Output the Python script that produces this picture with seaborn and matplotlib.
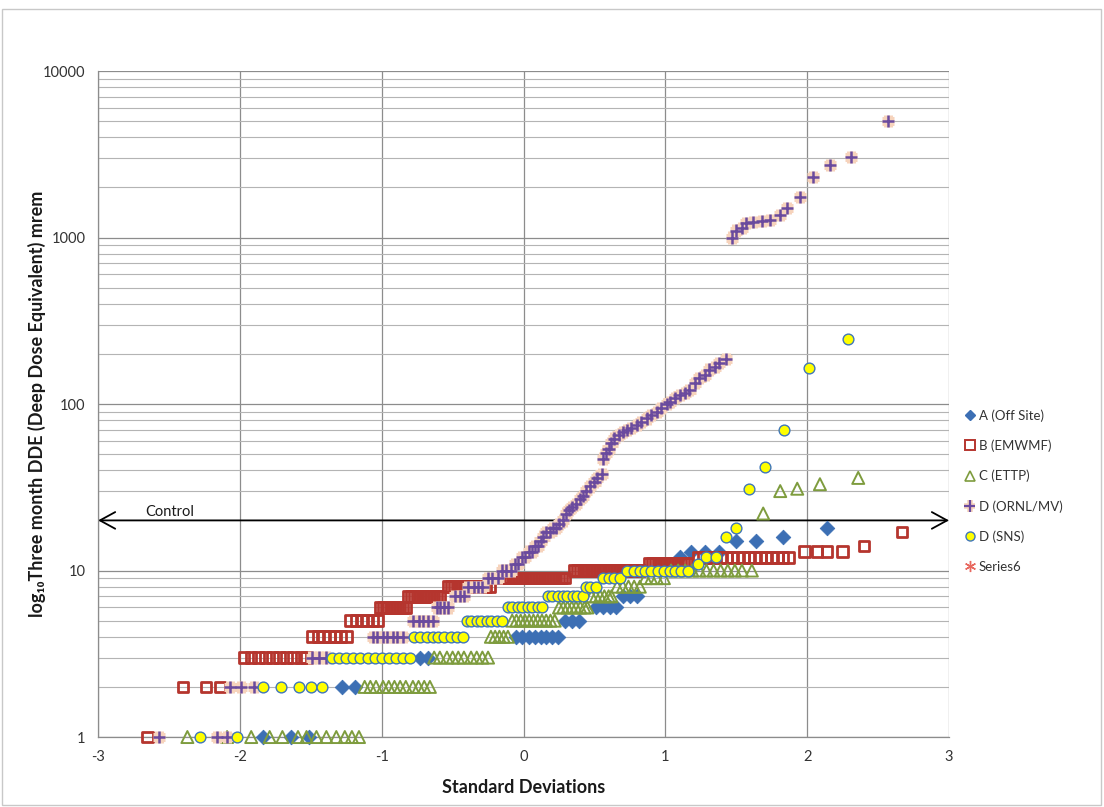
import matplotlib
matplotlib.use("Agg")
import matplotlib.pyplot as plt
import matplotlib.patheffects as pe
from matplotlib.lines import Line2D
from matplotlib.patches import Rectangle
from matplotlib.ticker import FixedLocator, LogLocator, NullFormatter
import pandas as pd
import seaborn as sns

# ---- Data: dose levels (mrem) and the standard-deviation positions of each point ----
A_DOSE = [1, 2, 3, 4, 5, 6, 7, 12, 13, 15, 16, 18]
A_SD = [[-1.84, -1.64, -1.51], [-1.28, -1.19], [-0.73, -0.67],
        [-0.05, -0.01, 0.04, 0.08, 0.12, 0.16, 0.20, 0.24],
        [0.29, 0.34, 0.39], [0.51, 0.56, 0.61, 0.65], [0.70, 0.75, 0.80],
        [1.10], [1.18, 1.28, 1.38], [1.50, 1.64], [1.83], [2.14]]

B_DOSE = [1, 2, 3, 4, 5, 6, 7, 8, 9, 10, 11, 12, 13, 14, 17]
B_SD = [[-2.65], [-2.40, -2.24, -2.14],
        [-1.97, -1.92, -1.87, -1.82, -1.77, -1.72, -1.67, -1.62, -1.57, -1.53],
        [-1.49, -1.45, -1.41, -1.37, -1.33, -1.29, -1.25],
        [-1.22, -1.18, -1.14, -1.10, -1.06, -1.03],
        [-1.01, -0.99, -0.97, -0.95, -0.93, -0.91, -0.89, -0.87, -0.85, -0.83],
        [-0.81, -0.79, -0.77, -0.75, -0.73, -0.71, -0.69, -0.67, -0.65, -0.63, -0.61, -0.59],
        [-0.53, -0.51, -0.49, -0.47, -0.45, -0.43, -0.41, -0.39, -0.37, -0.35, -0.33,
         -0.31, -0.29, -0.27, -0.24],
        [-0.15, -0.13, -0.11, -0.09, -0.07, -0.05, -0.03, -0.01, 0.01, 0.03, 0.05, 0.07,
         0.09, 0.11, 0.13, 0.15, 0.17, 0.19, 0.21, 0.23, 0.25, 0.27, 0.29],
        [0.36, 0.38, 0.40, 0.42, 0.44, 0.46, 0.48, 0.50, 0.52, 0.54, 0.56, 0.58, 0.60,
         0.62, 0.64, 0.66, 0.68, 0.70, 0.72, 0.74, 0.76, 0.78, 0.80, 0.82],
        [0.89, 0.91, 0.93, 0.95, 0.97, 0.99, 1.01, 1.03, 1.05, 1.07, 1.09, 1.11, 1.13, 1.15],
        [1.23, 1.27, 1.31, 1.35, 1.39, 1.43, 1.47, 1.51, 1.55, 1.59, 1.63, 1.67, 1.71,
         1.75, 1.79, 1.83, 1.87],
        [1.98, 2.07, 2.14, 2.25], [2.40], [2.67]]

C_DOSE = [1, 2, 3, 4, 5, 6, 7, 8, 9, 10, 22, 30, 31, 33, 36]
C_SD = [[-2.37, -2.09, -1.92, -1.79, -1.70, -1.59, -1.53, -1.46, -1.39, -1.32, -1.26, -1.21, -1.16],
        [-1.12, -1.08, -1.04, -0.99, -0.95, -0.91, -0.87, -0.83, -0.78, -0.74, -0.70, -0.66],
        [-0.63, -0.59, -0.54, -0.50, -0.46, -0.42, -0.37, -0.33, -0.29, -0.25],
        [-0.23, -0.20, -0.17, -0.14, -0.11],
        [-0.08, -0.05, -0.02, 0.01, 0.04, 0.07, 0.10, 0.13, 0.16, 0.19, 0.22],
        [0.25, 0.28, 0.31, 0.34, 0.37, 0.40, 0.43, 0.45],
        [0.48, 0.51, 0.54, 0.57, 0.60, 0.62],
        [0.66, 0.70, 0.74, 0.78, 0.82],
        [0.86, 0.90, 0.94, 0.99],
        [1.04, 1.09, 1.14, 1.19, 1.24, 1.29, 1.34, 1.39, 1.44, 1.49, 1.54, 1.61],
        [1.69], [1.81], [1.93], [2.09], [2.36]]

ORNL_DOSE = [1, 2, 3, 4, 5, 6, 7, 8, 9, 10, 11, 12, 13, 14, 15, 16, 17, 18, 19, 20,
             22, 23, 24, 25, 27, 28, 30, 32, 34, 36, 38,
             47, 51, 54, 58, 62, 65, 68, 70, 72, 75, 78, 82, 86, 90, 95, 100,
             103, 109, 113, 116, 121, 134, 144, 150, 161, 167, 176, 186,
             1000, 1100, 1140, 1220, 1240, 1260, 1280, 1360, 1500, 1750, 2300, 2720, 3040, 5000]
ORNL_SD = [[-2.57, -2.16, -2.09], [-2.07, -1.99, -1.90], [-1.49, -1.44, -1.39],
           [-1.06, -1.03, -0.99, -0.96, -0.92, -0.89, -0.85],
           [-0.78, -0.74, -0.71, -0.67, -0.64], [-0.61, -0.59, -0.56, -0.53],
           [-0.48, -0.45, -0.42], [-0.39, -0.35, -0.32, -0.29], [-0.25, -0.22, -0.18],
           [-0.15, -0.12, -0.09], [-0.06, -0.04], [-0.01, 0.01], [0.04, 0.06], [0.08, 0.10],
           [0.12], [0.14], [0.16, 0.19], [0.21, 0.23], [0.25], [0.28],
           [0.30], [0.32], [0.34], [0.37], [0.40], [0.42], [0.44], [0.47], [0.50], [0.52], [0.55],
           [0.56], [0.58], [0.60], [0.62], [0.64], [0.67], [0.70], [0.73], [0.76], [0.80],
           [0.83], [0.87], [0.90], [0.94], [0.97], [1.01],
           [1.03], [1.07], [1.10], [1.14], [1.17], [1.21], [1.24], [1.28], [1.31], [1.35],
           [1.38], [1.43],
           [1.47], [1.50], [1.54], [1.57], [1.62], [1.68], [1.74], [1.81], [1.86], [1.95],
           [2.04], [2.16], [2.31], [2.57]]

SNS_DOSE = [1, 2, 3, 4, 5, 6, 7, 8, 9, 10, 11, 12, 16, 18, 31, 42, 70, 164, 246]
SNS_SD = [[-2.28, -2.02], [-1.84, -1.71, -1.58, -1.50, -1.42],
          [-1.35, -1.30, -1.25, -1.20, -1.15, -1.10, -1.05, -1.00, -0.95, -0.90, -0.85, -0.80],
          [-0.77, -0.73, -0.68, -0.64, -0.60, -0.56, -0.51, -0.47, -0.43],
          [-0.40, -0.37, -0.33, -0.30, -0.26, -0.23, -0.19, -0.15],
          [-0.11, -0.08, -0.04, -0.01, 0.03, 0.06, 0.10, 0.13],
          [0.17, 0.20, 0.24, 0.28, 0.31, 0.35, 0.38, 0.42],
          [0.44, 0.47, 0.51], [0.56, 0.60, 0.64, 0.68],
          [0.73, 0.78, 0.82, 0.86, 0.90, 0.95, 0.99, 1.03, 1.07, 1.11, 1.16],
          [1.23], [1.29, 1.36], [1.43], [1.50], [1.59], [1.70], [1.84], [2.01], [2.29]]

SERIES_NAMES = ["A (Off Site)", "B (EMWMF)", "C (ETTP)", "D (ORNL/MV)", "D (SNS)", "Series6"]
CONTROL_LEVEL = 20
X_TICKS = [-3, -2, -1, 0, 1, 2, 3]
Y_TICKS = [1, 10, 100, 1000, 10000]


def long_rows(name, doses, sds):
    return [(name, x, d) for d, xs in zip(doses, sds) for x in xs]


rows = (long_rows(SERIES_NAMES[0], A_DOSE, A_SD)
        + long_rows(SERIES_NAMES[1], B_DOSE, B_SD)
        + long_rows(SERIES_NAMES[2], C_DOSE, C_SD)
        + long_rows(SERIES_NAMES[3], ORNL_DOSE, ORNL_SD)
        + long_rows(SERIES_NAMES[4], SNS_DOSE, SNS_SD))
df = pd.DataFrame(rows, columns=["series", "sd", "dose"])

# ---- Styling ----
sns.set_theme(style="white")
plt.rcParams["font.family"] = ["Lato", "DejaVu Sans"]

BLUE = "#3C6FB4"
RED = "#B5352E"
GREEN = "#7E9C3E"
PURPLE = "#6A4A9E"
HALO = "#F6D3BC"
YELLOW = "#FFFF00"
SNS_EDGE = "#3F76B9"
PINK = "#E8685F"

styles = {
    SERIES_NAMES[0]: dict(marker="D", s=55, fc=BLUE, ec=BLUE, lw=0.6),
    SERIES_NAMES[1]: dict(marker="s", s=58, fc="none", ec=RED, lw=2.0),
    SERIES_NAMES[2]: dict(marker="^", s=75, fc="none", ec=GREEN, lw=1.4),
    SERIES_NAMES[3]: dict(marker="+", s=78, fc=PURPLE, ec=PURPLE, lw=1.8),
    SERIES_NAMES[4]: dict(marker="o", s=60, fc=YELLOW, ec=SNS_EDGE, lw=1.0),
}

fig = plt.figure(figsize=(11.04, 8.07), dpi=100)
fig.patches.append(Rectangle((0.002, 0.003), 0.995, 0.986, transform=fig.transFigure,
                             fill=False, edgecolor="#C8C8C8", lw=1.0))
ax = fig.add_axes([0.0888, 0.0867, 0.7708, 0.8253])
ax.set_yscale("log")
ax.set_xlim(-3, 3)
ax.set_ylim(1, 10000)

for z, name in enumerate(SERIES_NAMES[:5]):
    st = styles[name]
    sub = df[df["series"] == name]
    sns.scatterplot(data=sub, x="sd", y="dose", ax=ax, marker=st["marker"], s=st["s"],
                    color=st["ec"], legend=False, zorder=3 + z)
    coll = ax.collections[-1]
    coll.set_facecolor(st["fc"])
    coll.set_edgecolor(st["ec"])
    coll.set_linewidth(st["lw"])
    coll.set_zorder(3 + z)
    coll.set_clip_on(False)
    if name == SERIES_NAMES[3]:
        coll.set_path_effects([pe.Stroke(linewidth=6.5, foreground=HALO), pe.Normal()])

# Grid and axes
ax.xaxis.set_major_locator(FixedLocator(X_TICKS))
ax.set_xticklabels([str(t) for t in X_TICKS])
ax.yaxis.set_major_locator(FixedLocator(Y_TICKS))
ax.set_yticklabels([str(t) for t in Y_TICKS])
ax.yaxis.set_minor_locator(LogLocator(base=10, subs=range(2, 10), numticks=50))
ax.yaxis.set_minor_formatter(NullFormatter())
ax.grid(which="major", axis="both", color="#8C8C8C", lw=0.9)
ax.grid(which="minor", axis="y", color="#B4B4B4", lw=0.8)
ax.set_axisbelow(True)
for side in ["top", "right"]:
    ax.spines[side].set_visible(False)
for side in ["left", "bottom"]:
    ax.spines[side].set_color("#8C8C8C")
    ax.spines[side].set_linewidth(0.9)
ax.tick_params(axis="both", which="major", labelsize=10.5, labelcolor="#333333",
               color="#8C8C8C", length=4, width=0.9, direction="out", pad=5)
ax.tick_params(axis="y", which="minor", length=0)
ax.set_xlabel("")
ax.set_ylabel("")

# Control level arrow
ax.annotate("", xy=(3, CONTROL_LEVEL), xytext=(-3, CONTROL_LEVEL),
            arrowprops=dict(arrowstyle="<->,head_length=0.55,head_width=0.3", color="black",
                            lw=1.3, mutation_scale=20, shrinkA=0, shrinkB=0),
            zorder=2, annotation_clip=False)
ax.text(-2.67, 21.2, "Control", fontsize=10.5, color="#1a1a1a", ha="left", va="baseline")

# Axis titles
fig.text(0.4746, 0.0245, "Standard Deviations", ha="center", va="center",
         fontsize=13, fontweight="bold", color="#1a1a1a")
fig.text(0.0335, 0.499, "log\u2081\u2080Three month DDE (Deep Dose Equivalent) mrem",
         ha="center", va="center", rotation=90, fontsize=13, fontweight="bold", color="#1a1a1a")

# Legend
handles = [
    Line2D([], [], ls="none", marker="D", markersize=5.5, mfc=BLUE, mec=BLUE),
    Line2D([], [], ls="none", marker="s", markersize=6.5, mfc="white", mec=RED, mew=1.4),
    Line2D([], [], ls="none", marker="^", markersize=7, mfc="none", mec=GREEN, mew=1.2),
    Line2D([], [], ls="none", marker="+", markersize=8, mec=PURPLE, mew=1.6,
           path_effects=[pe.Stroke(linewidth=4, foreground=HALO), pe.Normal()]),
    Line2D([], [], ls="none", marker="o", markersize=6.5, mfc=YELLOW, mec=SNS_EDGE, mew=1.0),
    Line2D([], [], ls="none", marker=(6, 2, 0), markersize=8, mec=PINK, mew=1.0),
]
fig.legend(handles, SERIES_NAMES, loc="upper left", bbox_to_anchor=(963 / 1104, 1 - 409 / 807),
           frameon=False, fontsize=9.5, labelspacing=1.35, handletextpad=0.2,
           handlelength=1.0, borderaxespad=0, borderpad=0, labelcolor="#333333")

fig.savefig("out.png", dpi=100)
